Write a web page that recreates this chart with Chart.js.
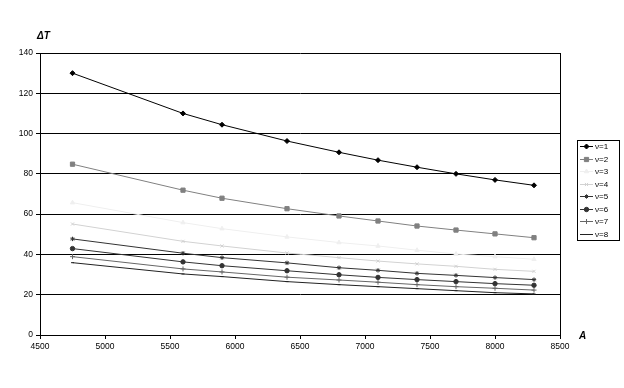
<!DOCTYPE html>
<html>
<head>
<meta charset="utf-8">
<script src="https://cdn.jsdelivr.net/npm/chart.js@4/dist/chart.umd.min.js"></script>
<style>
  html, body { margin: 0; padding: 0; background: #fff; }
  #wrap { position: relative; width: 624px; height: 388px; }
</style>
</head>
<body>
<div id="wrap"><canvas id="chart" width="624" height="388"></canvas></div>
<script>
// x positions (A)
const aValues = [4750, 5600, 5900, 6400, 6800, 7100, 7400, 7700, 8000, 8300];

// ΔT for each v
const v1 = [130, 110, 104.4, 96.3, 90.7, 86.8, 83.3, 80, 77, 74.3];
const v2 = [84.8, 71.9, 67.9, 62.7, 59.1, 56.6, 54.1, 52.1, 50.2, 48.3];
const v3 = [65.7, 55.8, 52.8, 48.7, 45.9, 44.2, 42.1, 40.2, 38.9, 37.6];
const v4 = [55.1, 46.5, 44.2, 40.7, 38.4, 36.7, 35.3, 34.1, 32.6, 31.6];
const v5 = [47.7, 40.6, 38.4, 35.8, 33.4, 32.1, 30.6, 29.6, 28.5, 27.5];
const v6 = [42.9, 36.3, 34.4, 31.9, 29.9, 28.6, 27.5, 26.5, 25.5, 24.7];
const v7 = [38.9, 32.8, 31.3, 28.7, 27.3, 26.2, 25, 24, 23.2, 22.3];
const v8 = [35.9, 30.3, 29, 26.5, 25, 24, 23, 22, 21, 20.4];

const seriesLabels = ['ν=1', 'ν=2', 'ν=3', 'ν=4', 'ν=5', 'ν=6', 'ν=7', 'ν=8'];
const seriesValues = [v1, v2, v3, v4, v5, v6, v7, v8];

const xTicks = [4500, 5000, 5500, 6000, 6500, 7000, 7500, 8000, 8500];
const yTicks = [0, 20, 40, 60, 80, 100, 120, 140];

// marker look per series
const styles = [
  { color: '#000000', point: 'rectRot', r: 2.5 },
  { color: '#808080', point: 'rect', r: 3 },
  { color: '#efefef', point: 'triangle', r: 2.5 },
  { color: '#d2d2d2', point: 'crossRot', r: 2.2 },
  { color: '#333333', point: 'star', r: 2.2 },
  { color: '#333333', point: 'circle', r: 2.2 },
  { color: '#666666', point: 'cross', r: 2.5 },
  { color: '#222222', point: 'line', r: 1.5 }
];

const FONT = 'Arial, "Liberation Sans", sans-serif';

const datasets = seriesValues.map((vals, i) => ({
  label: seriesLabels[i],
  data: vals.map((y, k) => ({ x: aValues[k], y })),
  borderColor: styles[i].color,
  backgroundColor: styles[i].color,
  borderWidth: 1,
  pointStyle: styles[i].point,
  pointRadius: styles[i].r,
  pointBorderWidth: 1,
  showLine: true,
  tension: 0,
  order: 8 - i
}));

// legend box + axis titles drawn on the canvas
const extras = {
  id: 'extras',
  afterDraw(chart) {
    const ctx = chart.ctx;
    ctx.save();

    // axis titles
    ctx.fillStyle = '#000';
    ctx.font = 'italic bold 10px ' + FONT;
    ctx.textBaseline = 'alphabetic';
    ctx.textAlign = 'left';
    ctx.fillText('ΔT', 37, 39);
    ctx.fillText('A', 579, 339);

    // legend
    const bx = 577.5, by = 140.5, bw = 42, bh = 100;
    ctx.fillStyle = '#fff';
    ctx.fillRect(bx, by, bw, bh);
    ctx.strokeStyle = '#000';
    ctx.lineWidth = 1;
    ctx.strokeRect(bx, by, bw, bh);

    ctx.font = '8px ' + FONT;
    ctx.textBaseline = 'middle';
    chart.data.datasets.forEach((ds, i) => {
      const y = Math.round(146 + i * 12.57) + 0.5;
      ctx.strokeStyle = ds.borderColor;
      ctx.beginPath();
      ctx.moveTo(580, y);
      ctx.lineTo(593, y);
      ctx.stroke();
      ctx.fillStyle = ds.backgroundColor;
      Chart.helpers.drawPoint(ctx, {
        pointStyle: ds.pointStyle,
        radius: ds.pointRadius,
        rotation: 0,
        borderWidth: 1
      }, 586.5, y);
      ctx.fillStyle = '#000';
      ctx.fillText(ds.label, 595, y + 0.5);
    });
    ctx.restore();
  }
};

new Chart(document.getElementById('chart'), {
  type: 'scatter',
  data: { datasets },
  plugins: [extras],
  options: {
    responsive: false,
    animation: false,
    layout: { padding: { top: 53, left: 0, right: 64, bottom: 33 } },
    plugins: {
      legend: { display: false },
      tooltip: { enabled: false }
    },
    scales: {
      x: {
        type: 'linear',
        min: xTicks[0],
        max: xTicks[xTicks.length - 1],
        afterFit: (s) => { s.height = 20; },
        afterBuildTicks: (s) => { s.ticks = xTicks.map(v => ({ value: v })); },
        ticks: {
          color: '#000',
          font: { family: FONT, size: 8.5 },
          padding: 3,
          maxRotation: 0,
          autoSkip: false,
          callback: (v) => String(v)
        },
        grid: {
          color: (c) => (c.tick && c.tick.value === 8500 ? '#000' : 'rgba(0,0,0,0)'),
          tickColor: '#000',
          tickLength: 4,
          lineWidth: 1
        },
        border: { display: true, color: '#000', width: 1 }
      },
      y: {
        min: yTicks[0],
        max: yTicks[yTicks.length - 1],
        afterFit: (s) => { s.width = 40; },
        afterBuildTicks: (s) => { s.ticks = yTicks.map(v => ({ value: v })); },
        ticks: {
          color: '#000',
          font: { family: FONT, size: 8.5 },
          padding: 3,
          callback: (v) => String(v)
        },
        grid: {
          color: '#000',
          tickColor: '#000',
          tickLength: 4,
          lineWidth: 1
        },
        border: { display: true, color: '#000', width: 1 }
      }
    }
  }
});
</script>
</body>
</html>
